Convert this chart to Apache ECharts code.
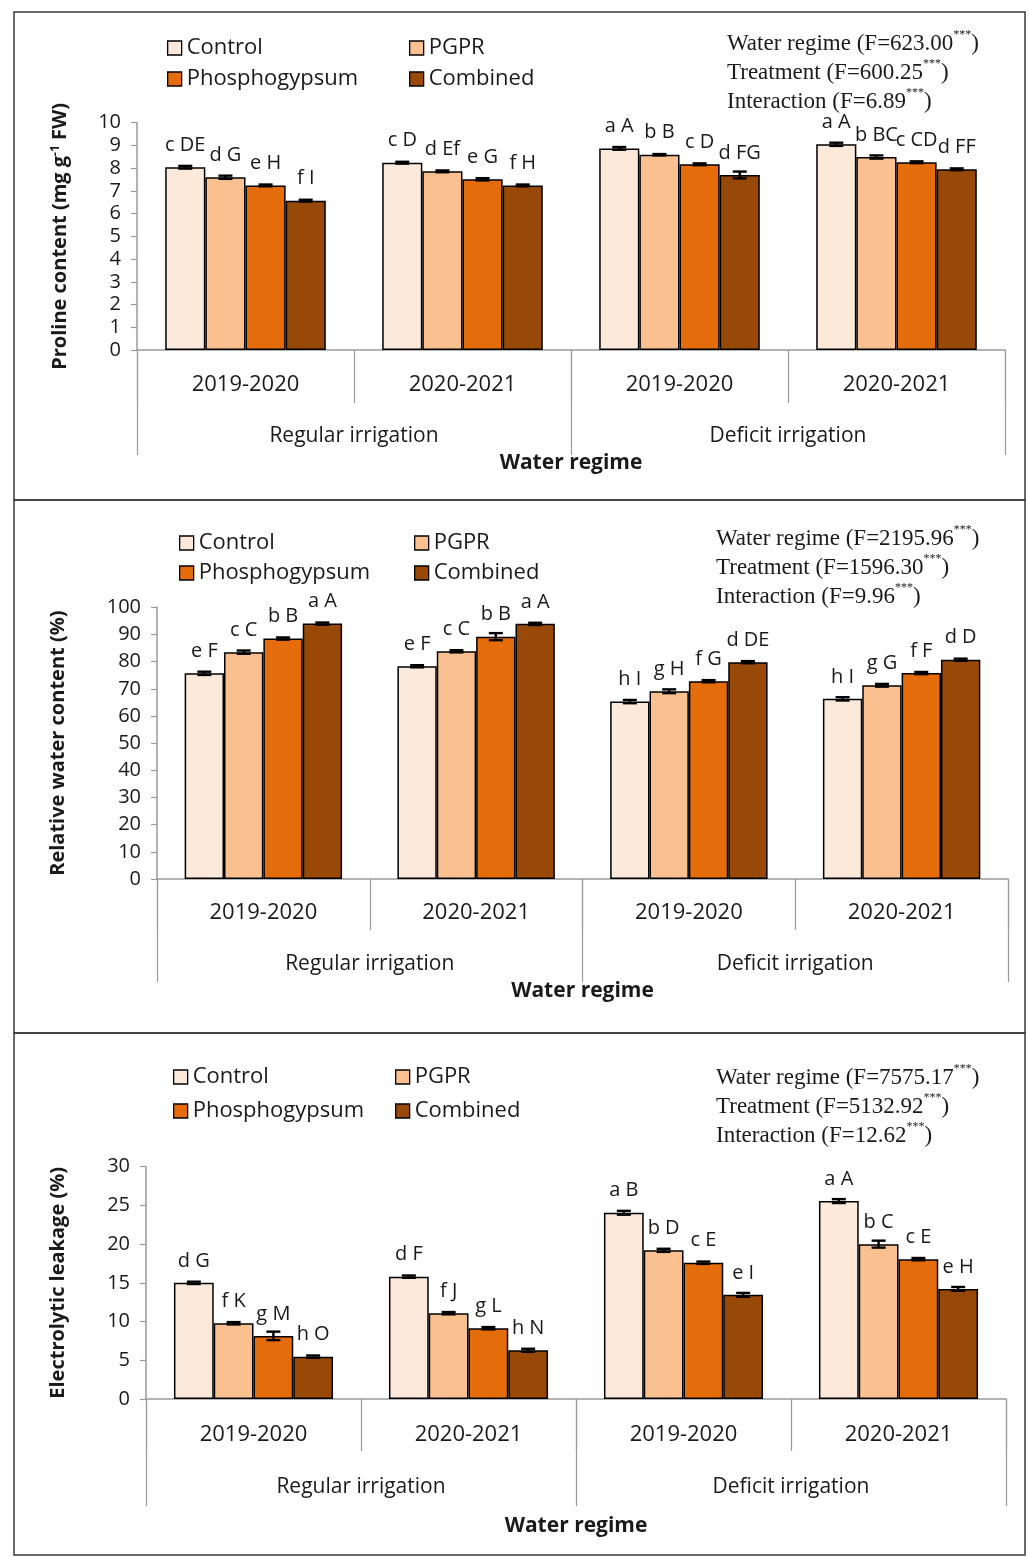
<!DOCTYPE html>
<html>
<head>
<meta charset="utf-8">
<script src="https://cdn.jsdelivr.net/npm/echarts@6/dist/echarts.min.js"></script>
<style>
  html, body { margin: 0; padding: 0; background: #fff; }
  #chart { width: 1029px; height: 1558px; }
</style>
</head>
<body>
<div id="chart"></div>
<script>
// Seasons within each water regime, and the four treatments
const seasons = ['2019-2020', '2020-2021', '2019-2020', '2020-2021'];
const regimes = ['Regular irrigation', 'Deficit irrigation'];
const treatments = ['Control', 'PGPR', 'Phosphogypsum', 'Combined'];

// Proline content (mg g-1 FW): rows = treatment, columns = season/regime
const prolineMeans = [
  [8.04, 8.24, 8.87, 9.05],
  [7.60, 7.86, 8.59, 8.49],
  [7.24, 7.51, 8.17, 8.26],
  [6.57, 7.24, 7.70, 7.95]
];
const prolineErr = [
  [0.06, 0.04, 0.06, 0.07],
  [0.07, 0.04, 0.03, 0.07],
  [0.04, 0.05, 0.04, 0.04],
  [0.04, 0.04, 0.15, 0.04]
];
const prolineLetters = [
  ['c DE', 'c D', 'a A', 'a A'],
  ['d G', 'd Ef', 'b B', 'b BC'],
  ['e H', 'e G', 'c D', 'c CD'],
  ['f I', 'f H', 'd FG', 'd FF']
];
const prolineF = ['623.00', '600.25', '6.89'];

// Relative water content (%)
const rwcMeans = [
  [75.7, 78.3, 65.3, 66.3],
  [83.5, 83.8, 69.1, 71.3],
  [88.5, 89.2, 72.8, 75.8],
  [94.0, 93.9, 79.8, 80.7]
];
const rwcErr = [
  [0.6, 0.4, 0.6, 0.6],
  [0.6, 0.4, 0.7, 0.5],
  [0.4, 1.3, 0.4, 0.4],
  [0.4, 0.4, 0.4, 0.4]
];
const rwcLetters = [
  ['e F', 'e F', 'h I', 'h I'],
  ['c C', 'c C', 'g H', 'g G'],
  ['b B', 'b B', 'f G', 'f F'],
  ['a A', 'a A', 'd DE', 'd D']
];
const rwcF = ['2195.96', '1596.30', '9.96'];

// Electrolytic leakage (%)
const elMeans = [
  [15.0, 15.8, 24.05, 25.56],
  [9.78, 11.08, 19.2, 20.0],
  [8.15, 9.14, 17.6, 18.06],
  [5.47, 6.29, 13.45, 14.22]
];
const elErr = [
  [0.15, 0.15, 0.25, 0.25],
  [0.15, 0.15, 0.2, 0.45],
  [0.55, 0.15, 0.15, 0.15],
  [0.15, 0.2, 0.25, 0.25]
];
const elLetters = [
  ['d G', 'd F', 'a B', 'a A'],
  ['f K', 'f J', 'b D', 'b C'],
  ['g M', 'g L', 'c E', 'c E'],
  ['h O', 'h N', 'e I', 'e H']
];
const elF = ['7575.17', '5132.92', '12.62'];

const yTicksProline = { min: 0, max: 10, interval: 1 };
const yTicksRwc = { min: 0, max: 100, interval: 10 };
const yTicksEl = { min: 0, max: 30, interval: 5 };

// ---- styling ----
const colors = ['#FDE9D9', '#FAC090', '#E46C0A', '#984807'];
const SANS = "'Open Sans', 'Noto Sans', sans-serif";
const SERIF = "'Liberation Serif', 'DejaVu Serif', serif";
const AXIS_GRAY = '#9a9a9a';
const TEXT = '#1a1a1a';
const BAR_GAP_CAT = 0.26;

const panels = [
  {
    means: prolineMeans, err: prolineErr, letters: prolineLetters, F: prolineF, ticks: yTicksProline,
    yName: 'Proline content (mg g{sup|-1} FW)', yNameGap: 67,
    grid: { left: 137, right: 24, top: 122.7, height: 227.3 },
    catMargin: 24, regMargin: 76, shortTick: 53, longTick: 105, titleGap: 103,
    legendLeft: [162, 404], legendTop: 32, legendGap: 9,
    fText: [727, 29],
    box: [14, 12, 1011, 488]
  },
  {
    means: rwcMeans, err: rwcErr, letters: rwcLetters, F: rwcF, ticks: yTicksRwc,
    yName: 'Relative water content (%)', yNameGap: 89,
    grid: { left: 157, right: 21, top: 607.3, height: 271.7 },
    catMargin: 23, regMargin: 75, shortTick: 51, longTick: 103, titleGap: 102,
    legendLeft: [174, 409], legendTop: 527, legendGap: 8,
    fText: [716, 524],
    box: [14, 500, 1011, 533]
  },
  {
    means: elMeans, err: elErr, letters: elLetters, F: elF, ticks: yTicksEl,
    yName: 'Electrolytic leakage (%)', yNameGap: 78,
    grid: { left: 146, right: 23, top: 1166.7, height: 232.3 },
    catMargin: 25, regMargin: 78, shortTick: 52, longTick: 107, titleGap: 117,
    legendLeft: [168, 390], legendTop: 1061, legendGap: 12,
    fText: [716, 1063],
    box: [14, 1033, 1011, 522]
  }
];

// Error bar drawn at the centre of each bar in a group of four touching bars
function errorBar(params, api) {
  const cat = api.value(0), t = api.value(1), v = api.value(2), e = api.value(3);
  const band = api.size([1, 0])[0];
  const bw = band * (1 - BAR_GAP_CAT) / 4;
  const x = api.coord([cat, v])[0] + (t - 1.5) * bw;
  const yTop = api.coord([cat, v + e])[1];
  const yBot = api.coord([cat, v - e])[1];
  const cap = 7;
  const style = { stroke: '#000', lineWidth: 2.4 };
  return {
    type: 'group',
    children: [
      { type: 'line', shape: { x1: x, y1: yTop, x2: x, y2: yBot }, style },
      { type: 'line', shape: { x1: x - cap, y1: yTop, x2: x + cap, y2: yTop }, style },
      { type: 'line', shape: { x1: x - cap, y1: yBot, x2: x + cap, y2: yBot }, style }
    ]
  };
}

const option = {
  backgroundColor: '#fff',
  animation: false,
  grid: [], xAxis: [], yAxis: [], series: [], legend: [], graphic: []
};

panels.forEach((p, i) => {
  option.grid.push(Object.assign({ containLabel: false }, p.grid));

  // season axis
  option.xAxis.push({
    type: 'category', gridIndex: i, data: seasons, position: 'bottom',
    axisLine: { show: true, lineStyle: { color: AXIS_GRAY, width: 1.5 } },
    axisTick: { show: true, interval: 0, length: p.shortTick, lineStyle: { color: AXIS_GRAY, width: 1.2 } },
    axisLabel: { interval: 0, margin: p.catMargin, fontSize: 22, fontFamily: SANS, color: TEXT },
    splitLine: { show: false }
  });
  // water regime axis
  option.xAxis.push({
    type: 'category', gridIndex: i, data: regimes, position: 'bottom',
    axisLine: { show: false },
    axisTick: { show: true, interval: 0, length: p.longTick, lineStyle: { color: AXIS_GRAY, width: 1.2 } },
    axisLabel: { interval: 0, margin: p.regMargin, fontSize: 21, fontFamily: SANS, color: TEXT },
    name: 'Water regime', nameLocation: 'middle', nameGap: p.titleGap,
    nameTextStyle: { fontSize: 21, fontWeight: 'bold', fontFamily: SANS, color: TEXT },
    splitLine: { show: false }
  });

  option.yAxis.push({
    type: 'value', gridIndex: i,
    min: p.ticks.min, max: p.ticks.max, interval: p.ticks.interval,
    axisLine: { show: true, lineStyle: { color: AXIS_GRAY, width: 1.5 } },
    axisTick: { show: true, length: 6, lineStyle: { color: AXIS_GRAY, width: 1.2 } },
    axisLabel: { margin: 16, fontSize: 20, fontFamily: SANS, color: TEXT },
    splitLine: { show: false },
    name: p.yName, nameLocation: 'middle', nameRotate: 90, nameGap: p.yNameGap,
    nameTextStyle: {
      fontSize: 20, fontWeight: 'bold', fontFamily: SANS, color: TEXT,
      rich: { sup: { fontSize: 12, fontWeight: 'bold', fontFamily: SANS, color: TEXT, verticalAlign: 'top', lineHeight: 12 } }
    }
  });

  treatments.forEach((name, t) => {
    option.series.push({
      type: 'bar', name, xAxisIndex: 2 * i, yAxisIndex: i,
      data: p.means[t],
      barGap: 0, barCategoryGap: (BAR_GAP_CAT * 100) + '%',
      itemStyle: { color: colors[t], borderColor: '#000', borderWidth: 1.5 },
      label: {
        show: true, position: 'top', distance: 12,
        fontSize: 20, fontFamily: SANS, color: TEXT,
        formatter: (d) => p.letters[t][d.dataIndex]
      },
      emphasis: { disabled: true }
    });
  });

  const errData = [];
  treatments.forEach((name, t) => {
    p.means[t].forEach((v, c) => errData.push([c, t, v, p.err[t][c]]));
  });
  option.series.push({
    type: 'custom', xAxisIndex: 2 * i, yAxisIndex: i,
    renderItem: errorBar, data: errData, encode: { x: 0, y: 2 }, z: 5, silent: true
  });

  const legendBase = {
    orient: 'vertical', top: p.legendTop, itemGap: p.legendGap,
    itemWidth: 14, itemHeight: 14, icon: 'rect', selectedMode: false,
    itemStyle: { borderColor: '#000', borderWidth: 1.3 },
    textStyle: { fontSize: 22, fontFamily: SANS, color: TEXT, lineHeight: 22 }
  };
  option.legend.push(Object.assign({}, legendBase, { left: p.legendLeft[0], data: [treatments[0], treatments[2]] }));
  option.legend.push(Object.assign({}, legendBase, { left: p.legendLeft[1], data: [treatments[1], treatments[3]] }));

  option.graphic.push({
    type: 'rect', silent: true, z: -1,
    shape: { x: p.box[0], y: p.box[1], width: p.box[2], height: p.box[3] },
    style: { fill: 'none', stroke: '#3a3a3a', lineWidth: 1.5 }
  });
  option.graphic.push({
    type: 'text', silent: true, x: p.fText[0], y: p.fText[1],
    style: {
      text: 'Water regime (F=' + p.F[0] + '{sup|***})\n' +
            'Treatment (F=' + p.F[1] + '{sup|***})\n' +
            'Interaction (F=' + p.F[2] + '{sup|***})',
      font: '23px ' + SERIF, fill: TEXT, lineHeight: 29,
      rich: { sup: { fontSize: 12, fontFamily: SERIF, fill: TEXT, verticalAlign: 'top', lineHeight: 14 } }
    }
  });
});

const chart = echarts.init(document.getElementById('chart'), null, { renderer: 'canvas' });
chart.setOption(option);
</script>
</body>
</html>
